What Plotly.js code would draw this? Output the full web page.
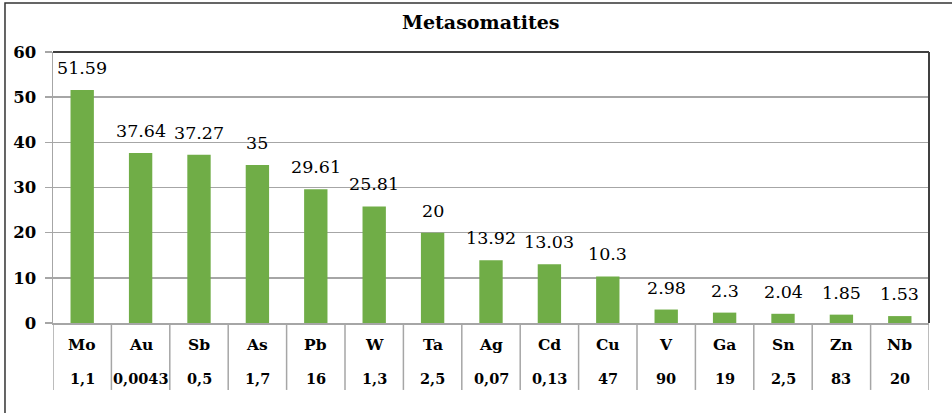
<!DOCTYPE html>
<html>
<head>
<meta charset="utf-8">
<script src="https://cdn.plot.ly/plotly-3.0.1.min.js"></script>
<style>html,body{margin:0;padding:0;background:#fff;}#chart{width:952px;height:413px;}</style>
</head>
<body>
<div id="chart"></div>
<script>
const elements = ["Mo","Au","Sb","As","Pb","W","Ta","Ag","Cd","Cu","V","Ga","Sn","Zn","Nb"];
const values = [51.59,37.64,37.27,35,29.61,25.81,20,13.92,13.03,10.3,2.98,2.3,2.04,1.85,1.53];
const clarke = ["1,1","0,0043","0,5","1,7","16","1,3","2,5","0,07","0,13","47","90","19","2,5","83","20"];
const yTicks = [0,10,20,30,40,50,60];

const serif = "'DejaVu Serif'";
const gray = "#A6A6A6";
const dark = "#404040";

const trace = {
  type: "bar",
  x: elements.map((e,i)=>i),
  y: values,
  marker: {color: "#70AD47", line: {width: 0}},
  hoverinfo: "none"
};

const annotations = [];
values.forEach((v,i)=>{
  annotations.push({x:i, y:v, xref:"x", yref:"y", text:String(v), showarrow:false,
    yanchor:"bottom", yshift:10, font:{family:serif, size:17.5, color:"#000"}});
  annotations.push({x:i, y:-0.081, xref:"x", yref:"paper", text:"<b>"+elements[i]+"</b>", showarrow:false,
    yanchor:"middle", font:{family:serif, size:15.5, color:"#000"}});
  annotations.push({x:i, y:-0.203, xref:"x", yref:"paper", text:"<b>"+clarke[i]+"</b>", showarrow:false,
    yanchor:"middle", font:{family:serif, size:14.5, color:"#000"}});
});

const shapes = [];
for (let i=0;i<=elements.length;i++){
  shapes.push({type:"line", xref:"x", yref:"paper", x0:i-0.5, x1:i-0.5, y0:0, y1:-0.247,
    line:{color:gray, width:1.5}});
}
shapes.push({type:"line", xref:"paper", yref:"paper", x0:0, x1:1, y0:1, y1:1, line:{color:dark, width:2}});
shapes.push({type:"line", xref:"paper", yref:"paper", x0:1, x1:1, y0:0, y1:1, line:{color:dark, width:2}});
shapes.push({type:"rect", xref:"paper", yref:"paper", x0:-0.0548, x1:1.05, y0:-0.35, y1:1.181,
  line:{color:"#333", width:1.5}, fillcolor:"rgba(0,0,0,0)"});

const layout = {
  width: 952, height: 413,
  margin: {l:53, r:23, t:52, b:90},
  paper_bgcolor: "#fff", plot_bgcolor: "#fff",
  font: {family: serif},
  title: {text:"<b>Metasomatites</b>", font:{family:serif, size:19, color:"#000"},
    x:0.505, xanchor:"center", y:0.947, yanchor:"middle", yref:"container"},
  showlegend: false,
  bargap: 0.6,
  xaxis: {range:[-0.5, elements.length-0.5], showticklabels:false, showgrid:false, zeroline:false,
    showline:true, linecolor:gray, linewidth:1.5, ticks:"", fixedrange:true},
  yaxis: {range:[0,60], tickvals:yTicks, ticktext:yTicks.map(String), showgrid:true, gridcolor:gray, gridwidth:1.5,
    zeroline:false, showline:true, linecolor:gray, linewidth:1.5, ticks:"outside", ticklen:7, tickcolor:gray,
    tickwidth:1.5, tickfont:{family:serif, size:16.5, color:"#000", weight:"bold"}, ticklabelstandoff:5},
  annotations: annotations,
  shapes: shapes
};

Plotly.newPlot("chart", [trace], layout, {staticPlot:true, displayModeBar:false});
</script>
</body>
</html>
